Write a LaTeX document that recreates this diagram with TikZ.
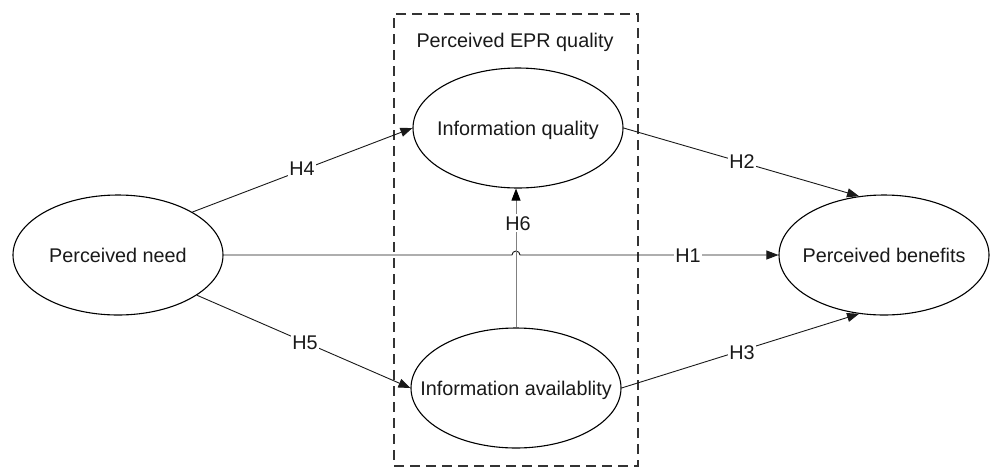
\documentclass[tikz,border=0pt]{standalone}
\usepackage{fontspec}
\setmainfont{Liberation Sans}
\usetikzlibrary{arrows.meta,shapes.geometric,calc}
\begin{document}
\begin{tikzpicture}[x=1pt,y=-1pt,
  every node/.style={font=\fontsize{19.8pt}{22pt}\selectfont, text=black!90},
  construct/.style={ellipse, draw=black, line width=1.1pt, minimum width=210pt, minimum height=120pt, inner sep=0pt, text height=14.3pt, text depth=0pt},
  link/.style={line width=0.9pt, draw=black!90, -{Triangle[length=12pt,width=9pt]}},
  hlabel/.style={fill=white, inner sep=1.5pt, text height=14.3pt, text depth=0pt},
  groupbox/.style={draw=black!80, line width=1.3pt, dash pattern=on 10pt off 6pt, minimum width=244pt, minimum height=452pt, inner sep=0pt}]
\useasboundingbox (0,0) rectangle (991,467);
\node[groupbox] (epr) at (516,240) {};
\node[anchor=base] (eprlabel) at (515,47) {Perceived EPR quality};
\node[construct] (pn) at (118,255) {\makebox[0pt]{Perceived need}};
\node[construct] (iq) at (518,128) {\makebox[0pt]{Information quality}};
\node[construct] (ia) at (516,388) {\makebox[0pt]{Information availablity}};
\node[construct] (pb) at (884,255) {\makebox[0pt]{Perceived benefits}};
\coordinate (jump) at ($(pn.east -| ia.north)+(-4,0)$);
\draw[link] (pn.30) -- (iq.west);
\draw[link] (pn.-27) -- (ia.west);
\draw[link] (pn.east) -- (jump) arc[start angle=180, end angle=0, radius=4pt] -- (pb.west);
\draw[link] (iq.east) -- (pb.113);
\draw[link] (ia.east) -- (pb.-113);
\draw[link, draw=black!50, -{Triangle[length=12pt,width=9pt,fill=black,color=black]}] (ia.north) -- (ia.north |- iq.south);
\node[hlabel] (h4) at (302,168) {H4};
\node[hlabel] (h5) at (305,342) {H5};
\node[hlabel] (h1) at (688,255) {H1};
\node[hlabel] (h2) at (742,161) {H2};
\node[hlabel] (h3) at (742,352) {H3};
\node[hlabel] (h6) at (518,223) {H6};
\end{tikzpicture}
\end{document}
